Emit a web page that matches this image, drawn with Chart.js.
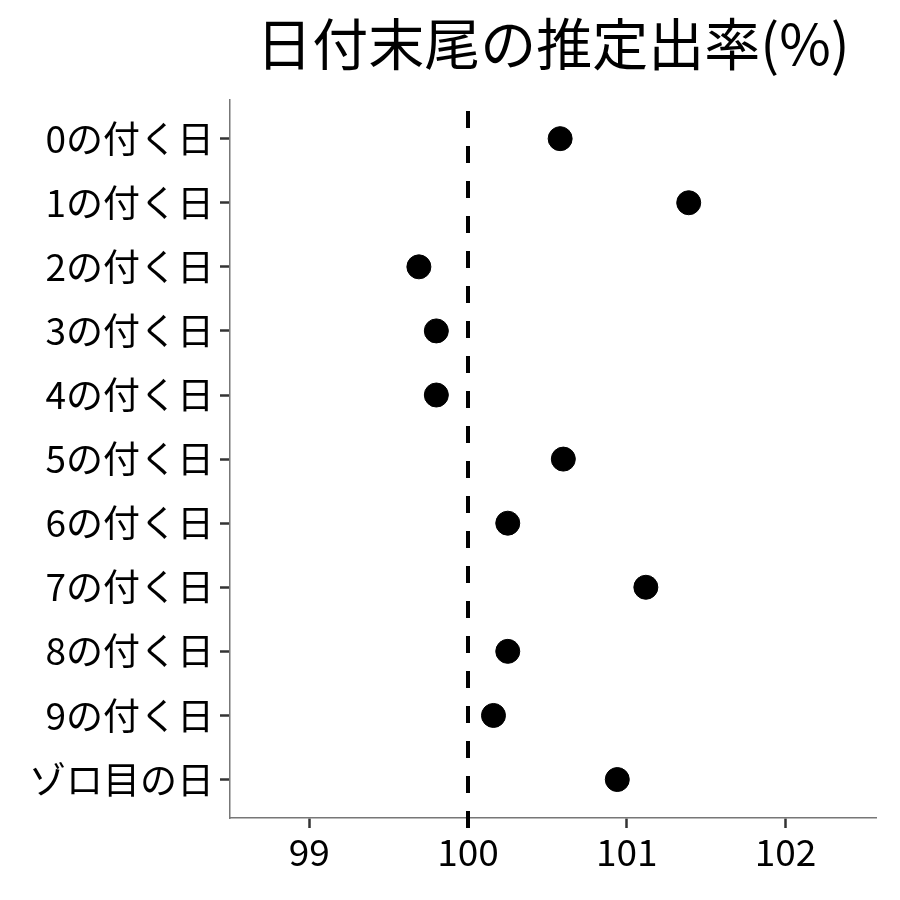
<!DOCTYPE html>
<html>
<head>
<meta charset="utf-8">
<script src="https://cdn.jsdelivr.net/npm/chart.js@4"></script>
<style>
  body { margin: 0; background: #fff; }
  #wrap { width: 900px; height: 900px; }
</style>
</head>
<body>
<div id="wrap"><canvas id="myChart"></canvas></div>
<script>
const categories = ['0の付く日', '1の付く日', '2の付く日', '3の付く日', '4の付く日', '5の付く日',
  '6の付く日', '7の付く日', '8の付く日', '9の付く日', 'ゾロ目の日'];
const rates = [100.58, 101.39, 99.69, 99.80, 99.80, 100.60, 100.25, 101.12, 100.25, 100.16, 100.94];
const xTicks = [99, 100, 101, 102];
const refValue = 100;

const font = "'Noto Sans CJK JP', 'Noto Sans', sans-serif";

// dashed reference line at 100
const refLine = {
  id: 'refLine',
  beforeDatasetsDraw(chart) {
    const { ctx, chartArea, scales } = chart;
    const x = Math.round(scales.x.getPixelForValue(refValue));
    ctx.save();
    ctx.strokeStyle = '#000';
    ctx.lineWidth = 4;
    ctx.setLineDash([17, 18]);
    ctx.beginPath();
    ctx.moveTo(x, chartArea.bottom + 10);
    ctx.lineTo(x, chartArea.top);
    ctx.stroke();
    ctx.restore();
  }
};

const ctx = document.getElementById('myChart');

new Chart(ctx, {
  type: 'scatter',
  data: {
    datasets: [{
      data: rates.map((v, i) => ({ x: v, y: i })),
      backgroundColor: '#000',
      borderColor: '#000',
      pointRadius: 12,
      pointHoverRadius: 12
    }]
  },
  options: {
    responsive: true,
    maintainAspectRatio: false,
    animation: false,
    layout: { padding: { left: 0, right: 24, top: 0, bottom: 0 } },
    plugins: {
      legend: { display: false },
      tooltip: { enabled: false },
      title: {
        display: true,
        fullSize: false,
        text: '日付末尾の推定出率(%)',
        color: '#000',
        font: { family: font, size: 56, weight: 'normal' },
        padding: { top: 10, bottom: 23 }
      }
    },
    scales: {
      x: {
        type: 'linear',
        min: 98.5,
        max: 102.57,
        afterBuildTicks: (scale) => { scale.ticks = xTicks.map(v => ({ value: v })); },
        afterFit: (scale) => { scale.height = 82; },
        border: { color: '#777', width: 1.5 },
        grid: { drawOnChartArea: false, drawTicks: true, tickLength: 10, tickColor: '#333', tickWidth: 2.5 },
        ticks: { color: '#000', font: { family: font, size: 37 }, padding: 2 }
      },
      y: {
        type: 'linear',
        min: -0.6,
        max: 10.6,
        reverse: true,
        afterBuildTicks: (scale) => { scale.ticks = categories.map((c, i) => ({ value: i })); },
        afterFit: (scale) => { scale.width = 230; },
        border: { color: '#777', width: 1.5 },
        grid: { drawOnChartArea: false, drawTicks: true, tickLength: 10, tickColor: '#333', tickWidth: 2.5 },
        ticks: {
          color: '#000',
          font: { family: font, size: 37 },
          padding: 6,
          callback: (v) => categories[v]
        }
      }
    }
  },
  plugins: [refLine]
});
</script>
</body>
</html>
